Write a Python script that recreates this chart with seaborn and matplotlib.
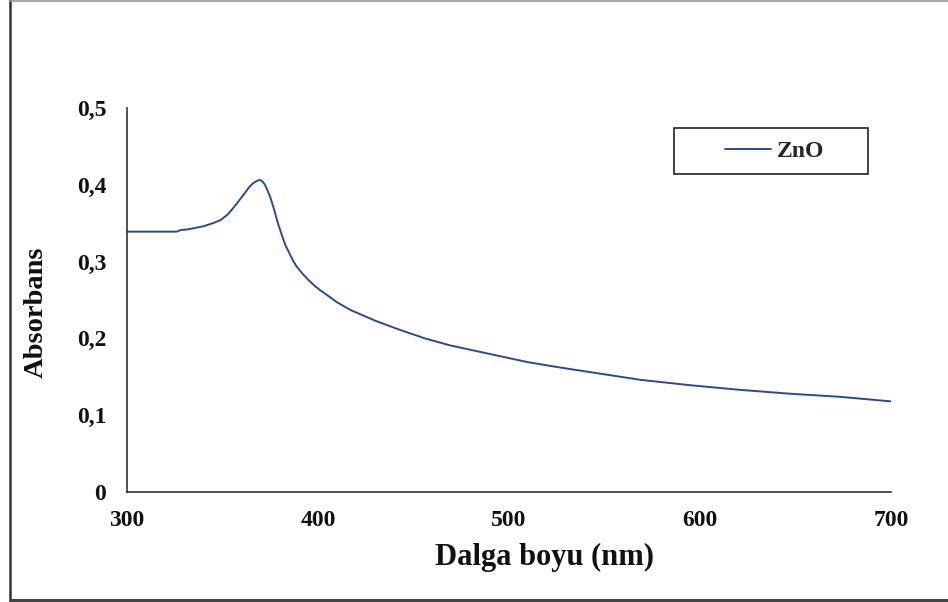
import matplotlib
matplotlib.use("Agg")
import matplotlib.pyplot as plt
from matplotlib.lines import Line2D
from matplotlib.patches import Rectangle
import seaborn as sns
import pandas as pd

# UV-Vis absorption spectrum of ZnO
wavelength_nm = [300, 310, 320, 326, 328, 332, 336, 340, 345, 349, 353, 357, 361,
                 364, 366, 368, 369, 370, 371, 372, 373, 375, 377, 379, 381, 383,
                 385, 387, 389, 392, 395, 398, 401, 405, 410, 417, 430, 443, 456,
                 469, 482, 495, 510, 527, 548, 569, 595, 621, 647, 673, 700]
absorbance = [0.339, 0.339, 0.339, 0.339, 0.341, 0.342, 0.344, 0.346, 0.350, 0.354,
              0.362, 0.374, 0.387, 0.397, 0.402, 0.405, 0.406, 0.406, 0.404, 0.401,
              0.396, 0.384, 0.368, 0.350, 0.335, 0.321, 0.311, 0.301, 0.293, 0.284,
              0.276, 0.269, 0.263, 0.256, 0.247, 0.237, 0.223, 0.211, 0.200, 0.191,
              0.184, 0.177, 0.169, 0.162, 0.154, 0.146, 0.139, 0.133, 0.128, 0.124,
              0.118]
series_name = "ZnO"

x_ticks = [300, 400, 500, 600, 700]
y_ticks = [0, 0.1, 0.2, 0.3, 0.4, 0.5]
y_tick_labels = ["0", "0,1", "0,2", "0,3", "0,4", "0,5"]

df = pd.DataFrame({"Dalga boyu (nm)": wavelength_nm, "Absorbans": absorbance})

sns.set_theme(style="white")
plt.rcParams["font.family"] = ["Liberation Serif", "DejaVu Serif"]
plt.rcParams["font.weight"] = "bold"

fig = plt.figure(figsize=(9.48, 6.02), dpi=100)
ax = fig.add_axes([127 / 948, 1 - 492 / 602, (891 - 127) / 948, (492 - 108) / 602])

line_color = "#2E4A8E"
sns.lineplot(data=df, x="Dalga boyu (nm)", y="Absorbans", color=line_color,
             linewidth=1.4, ax=ax, legend=False)

ax.set_xlim(300, 700)
ax.set_ylim(0, 0.5)
ax.set_xticks(x_ticks)
ax.set_xticklabels([str(t) for t in x_ticks])
ax.set_yticks(y_ticks)
ax.set_yticklabels(y_tick_labels)

for side in ["top", "right"]:
    ax.spines[side].set_visible(False)
for side in ["left", "bottom"]:
    ax.spines[side].set_color("#222222")
    ax.spines[side].set_linewidth(1.1)

ax.tick_params(axis="both", direction="in", length=6, width=1.0, color="#222222",
               labelsize=17, labelcolor="#111111")
ax.tick_params(axis="y", pad=15)
ax.tick_params(axis="x", pad=13)
for lbl in ax.get_xticklabels() + ax.get_yticklabels():
    lbl.set_fontweight("bold")

ax.set_xlabel("Dalga boyu (nm)", fontsize=22, fontweight="bold", color="#111111")
ax.set_ylabel("Absorbans", fontsize=20.5, fontweight="bold", color="#111111")
ax.xaxis.set_label_coords(0.547, -0.132)
ax.yaxis.set_label_coords(-0.103, 0.469)

# legend entry with its own rectangular frame
handle = Line2D([], [], color=line_color, linewidth=1.4)
ax.legend([handle], [series_name], frameon=False, loc="center left",
          bbox_to_anchor=((725 - 127) / 764, (492 - 151) / 384),
          handlelength=1.95, handletextpad=0.25, borderpad=0, borderaxespad=0,
          prop={"family": "Liberation Serif", "weight": "bold", "size": 17})
fig.patches.append(Rectangle((674 / 948, 1 - 174 / 602), (868 - 674) / 948, 46 / 602,
                             transform=fig.transFigure, fill=False,
                             edgecolor="#222222", linewidth=1.2))

# outer frame of the figure
fig.add_artist(Line2D([9.5 / 948, 9.5 / 948], [0, 1], transform=fig.transFigure,
                      color="#333333", linewidth=1.8))
fig.add_artist(Line2D([9.5 / 948, 1], [1 - 0.5 / 602, 1 - 0.5 / 602],
                      transform=fig.transFigure, color="#999999", linewidth=1.2))
fig.add_artist(Line2D([9.5 / 948, 1], [2 / 602, 2 / 602], transform=fig.transFigure,
                      color="#444444", linewidth=2.2))

fig.savefig("out.png", dpi=100, facecolor="white")
